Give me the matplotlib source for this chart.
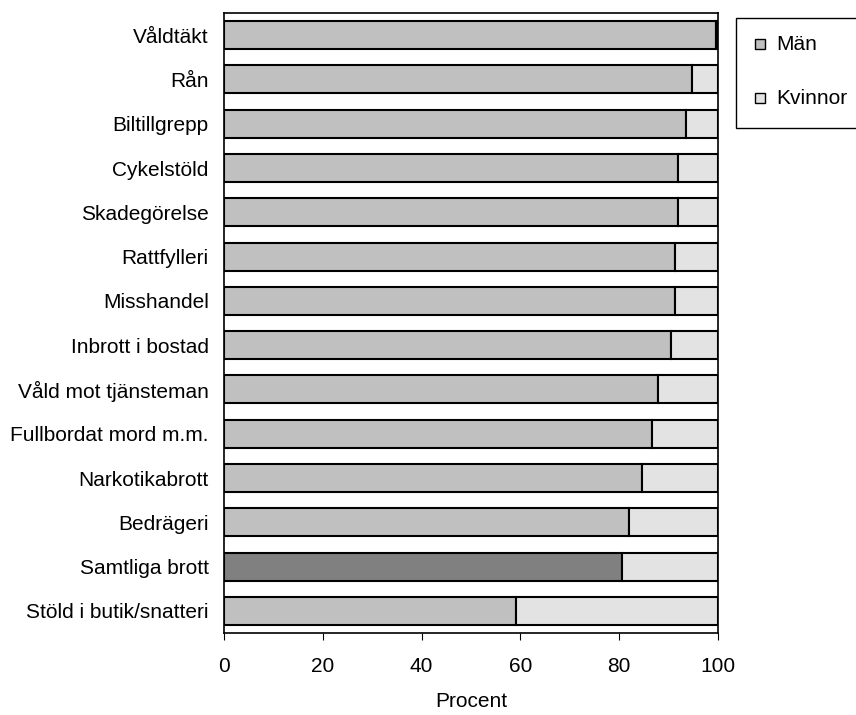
import matplotlib
matplotlib.use("Agg")
import matplotlib.pyplot as plt
from matplotlib.patches import Rectangle

plt.rcParams['font.family'] = ['Liberation Sans', 'DejaVu Sans']

categories = ["Våldtäkt", "Rån", "Biltillgrepp", "Cykelstöld", "Skadegörelse",
              "Rattfylleri", "Misshandel", "Inbrott i bostad", "Våld mot tjänsteman",
              "Fullbordat mord m.m.", "Narkotikabrott", "Bedrägeri", "Samtliga brott",
              "Stöld i butik/snatteri"]
man = [99.5, 94.8, 93.5, 92.0, 92.0, 91.2, 91.2, 90.4, 87.9, 86.6, 84.7, 81.9, 80.6, 59.2]
kvinnor = [100 - m for m in man]
xticks = [0, 20, 40, 60, 80, 100]
legend_labels = ["Män", "Kvinnor"]

c_man = "#c0c0c0"
c_total = "#808080"
c_kv = "#e3e3e3"
FS = 15

fig = plt.figure(figsize=(8.56, 7.15), dpi=100)
ax = fig.add_axes([224/856, 1 - 633/715, (718-224)/856, (633-13)/715])

n = len(categories)
ypos = list(range(n))
men_colors = [c_total if c == "Samtliga brott" else c_man for c in categories]
ax.barh(ypos, man, height=0.63, color=men_colors, edgecolor="black", linewidth=1.5)
ax.barh(ypos, kvinnor, left=man, height=0.63, color=c_kv, edgecolor="black", linewidth=1.5)

ax.set_ylim(n - 0.5, -0.5)
ax.set_xlim(0, 100)
ax.set_yticks(ypos)
ax.set_yticklabels(categories, fontsize=FS)
ax.tick_params(axis='y', length=0, pad=11)
ax.set_xticks(xticks)
ax.set_xticklabels([str(t) for t in xticks], fontsize=FS)
ax.tick_params(axis='x', length=5, width=0.8, pad=12, direction='out')
ax.set_xlabel("Procent", fontsize=FS, labelpad=12)
for s in ax.spines.values():
    s.set_linewidth(1.2)
    s.set_color("black")

# legend box
fx = lambda px: px / 856
fy = lambda py: 1 - py / 715
fig.patches.append(Rectangle((fx(736), fy(128)), fx(870) - fx(736), fy(18) - fy(128),
                             transform=fig.transFigure, facecolor="white",
                             edgecolor="black", linewidth=1.0, zorder=5))
for i, (lab, col) in enumerate(zip(legend_labels, [c_man, c_kv])):
    yc = [44, 98][i]
    fig.patches.append(Rectangle((fx(755), fy(yc + 5)), fx(10), 10/715,
                                 transform=fig.transFigure, facecolor=col,
                                 edgecolor="black", linewidth=1.0, zorder=6))
    fig.text(fx(776), fy(yc), lab, fontsize=FS, va="center", ha="left", zorder=7)

fig.savefig("out.png", dpi=100)
